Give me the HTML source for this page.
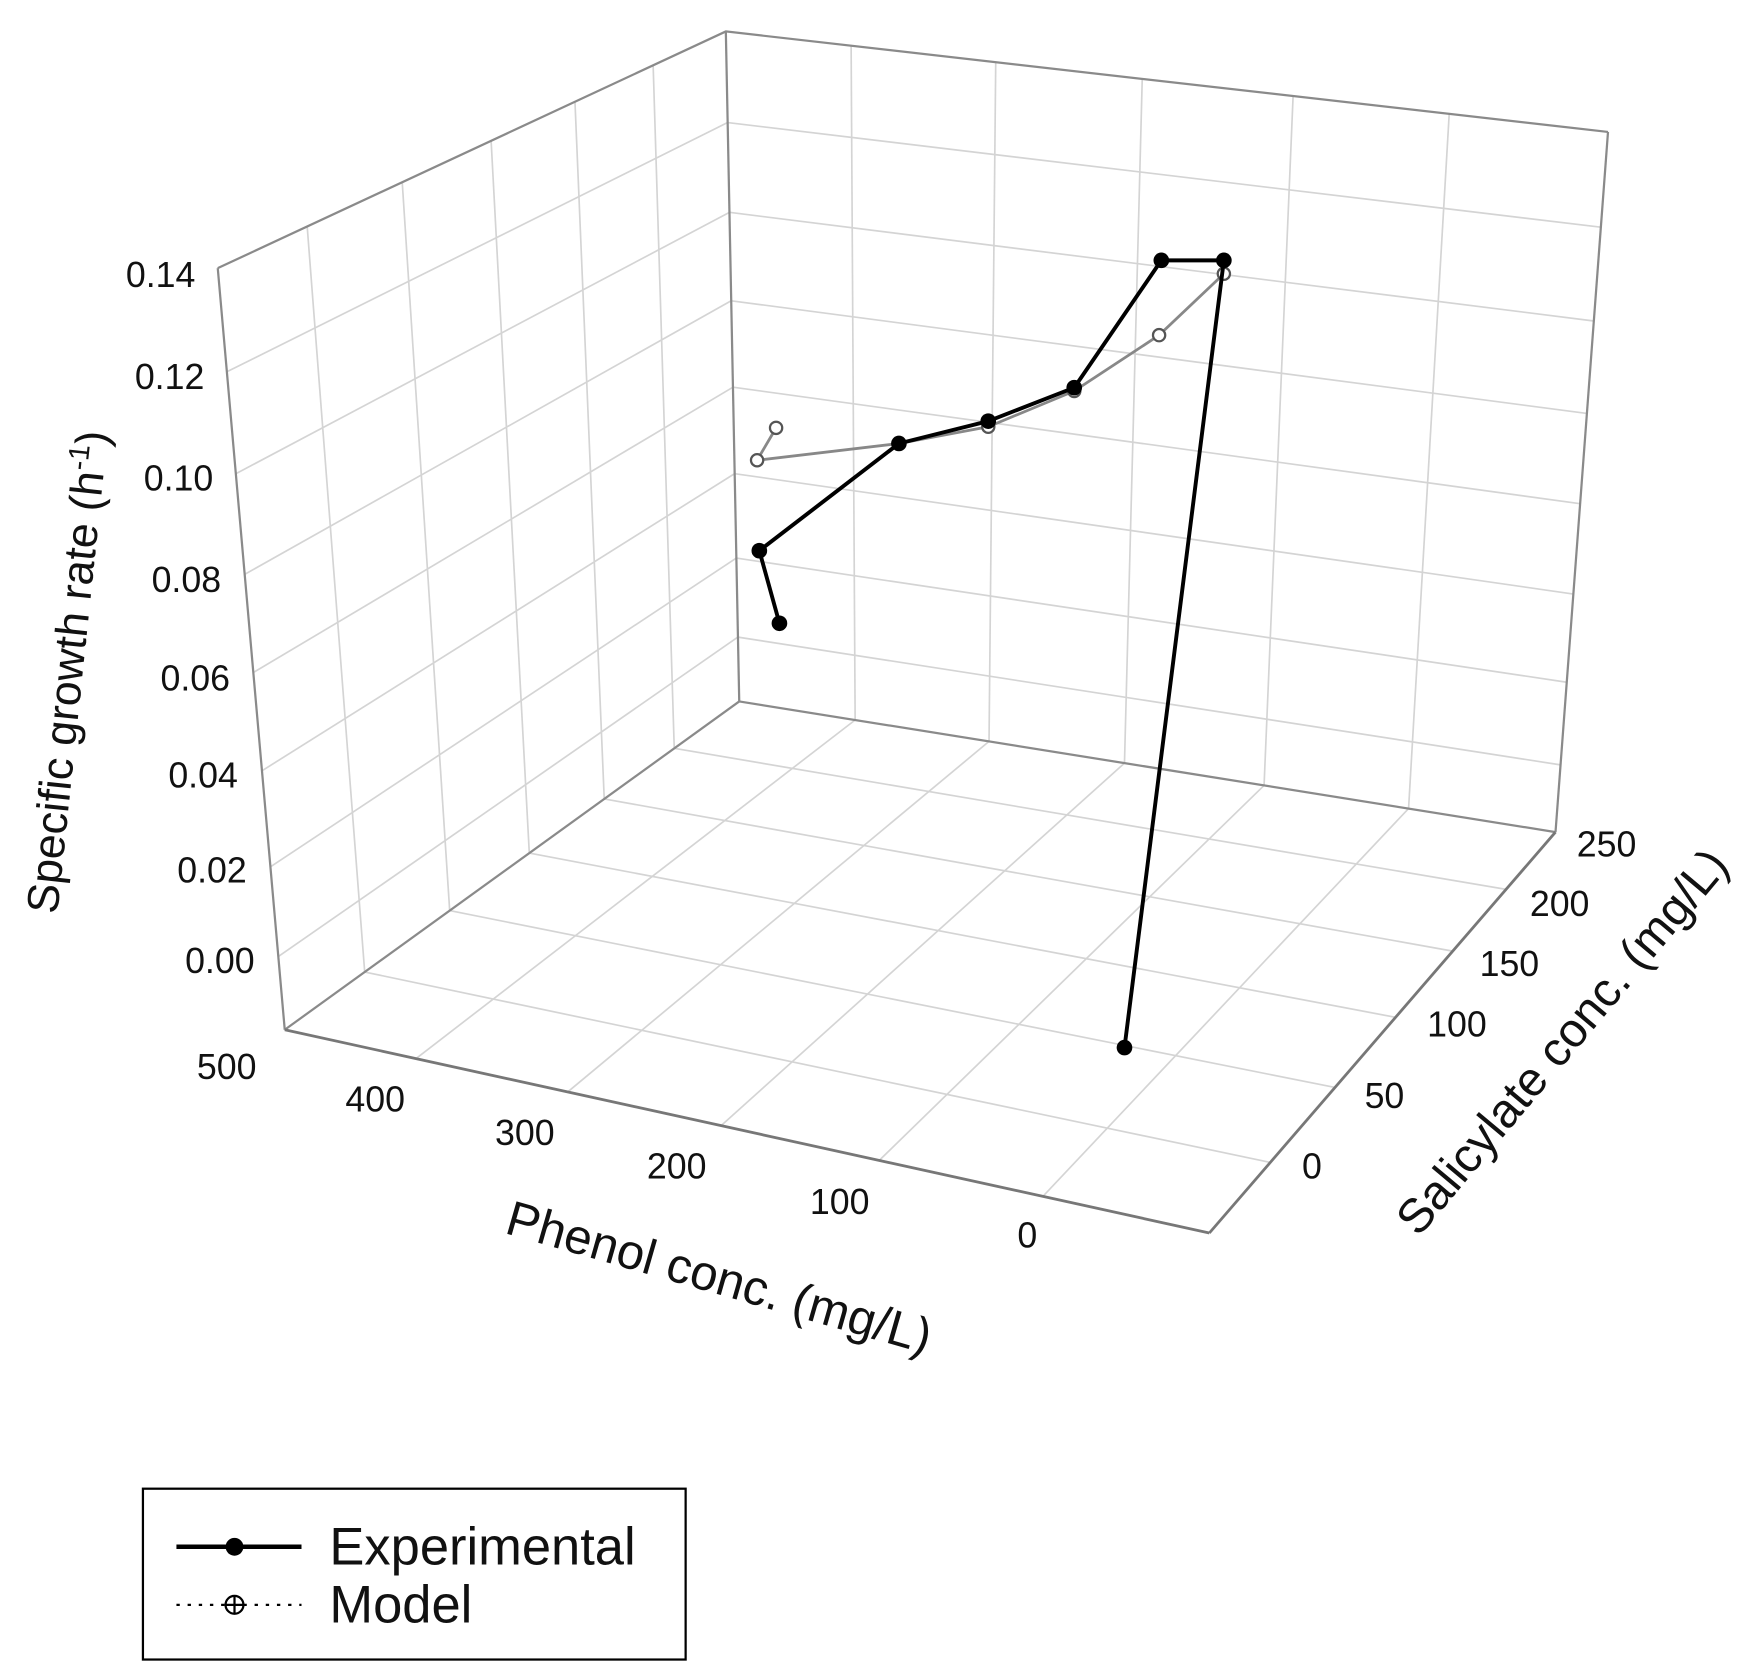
<!DOCTYPE html>
<html><head><meta charset="utf-8"><style>
html,body{margin:0;padding:0;background:#fff;}
svg{display:block;}
text{font-family:"Liberation Sans",Arial,sans-serif;fill:#111;}
</style></head><body>
<svg id="s" width="1742" height="1672" viewBox="0 0 1560 1497" xmlns="http://www.w3.org/2000/svg">
<g id="grid" stroke="#d4d4d4" stroke-width="1.5" fill="none"></g>
<g id="frame" stroke="#8a8a8a" stroke-width="2" fill="none">
<polyline points="195,240 650,28 1440,118"/>
<line x1="650" y1="28" x2="662" y2="628"/>
<line x1="195" y1="240" x2="255" y2="922"/>
<line x1="1440" y1="118" x2="1393" y2="745"/>
<line x1="662" y1="628" x2="255" y2="922"/>
<line x1="662" y1="628" x2="1393" y2="745"/>
<line x1="255" y1="922" x2="1083" y2="1104" stroke="#777" stroke-width="2.5"/>
<line x1="1083" y1="1104" x2="1393" y2="745" stroke="#777" stroke-width="2.5"/>
</g>
<g font-size="32" text-anchor="end">
<text x="175" y="257">0.14</text>
<text x="183" y="348">0.12</text>
<text x="191" y="439">0.10</text>
<text x="198" y="530">0.08</text>
<text x="206" y="618">0.06</text>
<text x="213" y="705">0.04</text>
<text x="221" y="790">0.02</text>
<text x="228" y="871">0.00</text>
</g>
<g font-size="32" text-anchor="middle">
<text x="203" y="966">500</text>
<text x="336" y="995">400</text>
<text x="470" y="1025">300</text>
<text x="606" y="1055">200</text>
<text x="752" y="1087">100</text>
<text x="920" y="1117">0</text>
</g>
<g font-size="32" text-anchor="start">
<text x="1412" y="767">250</text>
<text x="1370" y="820">200</text>
<text x="1325" y="874">150</text>
<text x="1278" y="928">100</text>
<text x="1222" y="992">50</text>
<text x="1166" y="1055">0</text>
</g>
<text font-size="44" text-anchor="middle" transform="translate(640,1158) rotate(16)">Phenol conc. (mg/L)</text>
<text font-size="43" text-anchor="middle" transform="translate(1410,942) rotate(-50)">Salicylate conc. (mg/L)</text>
<text font-size="40" text-anchor="middle" transform="translate(74,603) rotate(-84)">Specific growth rate (h<tspan dy="-15" font-size="26">-1</tspan><tspan dy="15">)</tspan></text>
<g id="data"></g>
<rect x="128" y="1333" width="486" height="153" fill="none" stroke="#000" stroke-width="2"/>
<line x1="158" y1="1385" x2="270" y2="1385" stroke="#000" stroke-width="4"/>
<circle cx="210" cy="1385" r="8" fill="#000"/>
<text x="295" y="1401" font-size="47">Experimental</text>
<line x1="158" y1="1437" x2="270" y2="1437" stroke="#000" stroke-width="2" stroke-dasharray="3,7"/>
<circle cx="210" cy="1437" r="8" fill="#fff" stroke="#000" stroke-width="2"/>
<line x1="202" y1="1437" x2="218" y2="1437" stroke="#000" stroke-width="2"/>
<line x1="210" y1="1429" x2="210" y2="1445" stroke="#000" stroke-width="2"/>
<text x="295" y="1453" font-size="47">Model</text>
</svg>
<script>
var A=[662,628],B=[255,922],C=[1393,745],D=[1083,1104],At=[650,28],Bt=[195,240],Ct=[1440,118];
function L(p,q,t){return [p[0]+(q[0]-p[0])*t,p[1]+(q[1]-p[1])*t];}
function F(u,v){var a=L(A,C,u),b=L(B,D,u);return L(a,b,v);}
var g=document.getElementById('grid'),s='';
function ln(p,q){s+='<line x1="'+p[0].toFixed(1)+'" y1="'+p[1].toFixed(1)+'" x2="'+q[0].toFixed(1)+'" y2="'+q[1].toFixed(1)+'"/>';}
var U=[.142,.306,.472,.643,.820],V=[.143,.297,.462,.637,.824],W=[.864,.730,.598,.469,.340,.214,.096];
U.forEach(function(u){ln(L(A,C,u),L(At,Ct,u));ln(F(u,0),F(u,1));});
V.forEach(function(v){ln(L(A,B,v),L(At,Bt,v));ln(F(0,v),F(1,v));});
W.forEach(function(w){ln(L(A,At,w),L(C,Ct,w));ln(L(A,At,w),L(B,Bt,w));});
g.innerHTML=s;
var d=document.getElementById('data');
var m=[[695,383],[678,412],[805,397],[885,382],[962,350],[1038,300],[1096,245]];
var e=[[698,558],[680,493],[805,397],[885,377],[962,347],[1040,233],[1096,233],[1007,938]];
var h='<polyline fill="none" stroke="#888" stroke-width="2.5" points="'+m.join(' ')+'"/>';
m.forEach(function(p){h+='<circle cx="'+p[0]+'" cy="'+p[1]+'" r="5.5" fill="#fff" stroke="#555" stroke-width="2"/>';});
h+='<polyline fill="none" stroke="#000" stroke-width="3.5" points="'+e.join(' ')+'"/>';
e.forEach(function(p){h+='<circle cx="'+p[0]+'" cy="'+p[1]+'" r="7" fill="#000"/>';});
d.innerHTML=h;
</script>
</body></html>
